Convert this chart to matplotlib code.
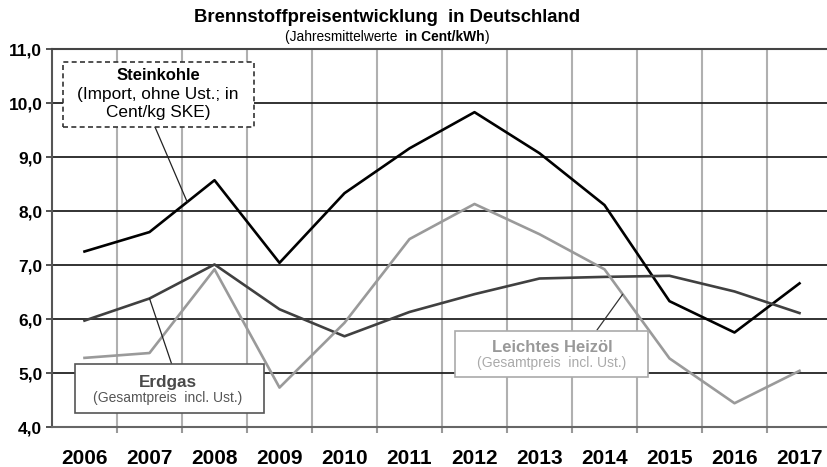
import numpy as np
import matplotlib.pyplot as plt
from matplotlib.patches import Rectangle

plt.rcParams["font.family"] = ["Liberation Sans", "DejaVu Sans"]

years = ["2006", "2007", "2008", "2009", "2010", "2011",
         "2012", "2013", "2014", "2015", "2016", "2017"]
steinkohle = [7.25, 7.61, 8.57, 7.04, 8.33, 9.16, 9.83, 9.07, 8.11, 6.33, 5.75, 6.66]
erdgas = [5.97, 6.38, 7.01, 6.18, 5.68, 6.13, 6.46, 6.75, 6.78, 6.80, 6.51, 6.11]
heizoel = [5.28, 5.37, 6.92, 4.73, 5.93, 7.48, 8.13, 7.57, 6.92, 5.27, 4.44, 5.04]

W, H = 828, 467
x = np.arange(len(years))

fig = plt.figure(figsize=(W / 100, H / 100), dpi=100)
ax = fig.add_axes([52 / W, 40 / H, 776 / W, 378 / H])
ax.set_xlim(-0.5, -0.5 + 776 / 65)
ax.set_ylim(4, 11)

# Gitter: senkrecht hellgrau zwischen den Jahren, waagerecht dunkel
ax.set_xticks(x[:-1] + 0.5)
ax.set_xticklabels([])
ax.set_xticks(x, minor=True)
ax.set_xticklabels(years, minor=True, fontsize=15, fontweight="bold")
ax.tick_params(axis="x", which="major", length=4, color="#999999", width=1.5)
ax.tick_params(axis="x", which="minor", length=0, pad=16)
ax.grid(axis="x", which="major", color="#b0b0b0", linewidth=1.5)

ax.set_yticks(range(4, 12))
ax.set_yticklabels([f"{v:.1f}".replace(".", ",") for v in range(4, 12)],
                   fontsize=12.5, fontweight="bold")
ax.tick_params(axis="y", length=4, color="#444444", width=1.3, pad=3)
ax.grid(axis="y", color="#222222", linewidth=1.3)
ax.set_axisbelow(True)

for side in ["top", "left", "bottom"]:
    ax.spines[side].set_linewidth(1.5)
ax.spines["top"].set_color("#444444")
ax.spines["left"].set_color("#555555")
ax.spines["bottom"].set_color("#666666")
ax.spines["right"].set_visible(False)

ax.plot(x, steinkohle, color="black", linewidth=1.9, zorder=3)
ax.plot(x, erdgas, color="#404040", linewidth=1.9, zorder=3)
ax.plot(x, heizoel, color="#9a9a9a", linewidth=1.9, zorder=3)

# Überschrift
fig.text(387 / W, 1 - 18 / H, "Brennstoffpreisentwicklung  in Deutschland",
         ha="center", va="center", fontsize=13.3, fontweight="bold")

# Untertitel aus drei Teilen, nacheinander gesetzt
renderer = fig.canvas.get_renderer()
parts = [("(Jahresmittelwerte  ", "normal"), ("in Cent/kWh", "bold"),
         (")", "normal")]
xpos = 285
for s, wt in parts:
    t = fig.text(xpos / W, 1 - 37 / H, s, ha="left", va="center",
                 fontsize=9.9, fontweight=wt)
    xpos += t.get_window_extent(renderer).width


def label_box(x0, y0, x1, y1, edge, ls):
    # Kasten in Bildpunkten (y von oben gezählt)
    r = Rectangle((x0 / W, 1 - y1 / H), (x1 - x0) / W, (y1 - y0) / H,
                  transform=fig.transFigure, facecolor="white", edgecolor=edge,
                  linewidth=1.2, linestyle=ls, zorder=5)
    fig.patches.append(r)


def leader(x_from, y_from, series, xd, color):
    yd = np.interp(xd, x, series)
    ax.annotate("", xy=(xd, yd), xytext=(x_from, H - y_from),
                textcoords="figure pixels",
                arrowprops=dict(arrowstyle="-", color=color, lw=0.9,
                                shrinkA=0, shrinkB=0), zorder=4)


# Steinkohle
leader(155, 127, steinkohle, 1.58, "#222222")
label_box(63, 62, 254, 127, "#333333", (0, (3, 2)))
fig.text(158 / W, 1 - 76 / H, "Steinkohle", ha="center", va="center",
         fontsize=12, fontweight="bold", zorder=6)
fig.text(158 / W, 1 - 95 / H, "(Import, ohne Ust.; in", ha="center",
         va="center", fontsize=12.4, zorder=6)
fig.text(158 / W, 1 - 113 / H, "Cent/kg SKE)", ha="center", va="center",
         fontsize=12.4, zorder=6)

# Erdgas
leader(172, 365, erdgas, 1.0, "#222222")
label_box(75, 364, 264, 413, "#555555", "-")
fig.text(168 / W, 1 - 382 / H, "Erdgas", ha="center", va="center",
         fontsize=12.3, fontweight="bold", color="#4a4a4a", zorder=6)
fig.text(168 / W, 1 - 398 / H, "(Gesamtpreis  incl. Ust.)", ha="center",
         va="center", fontsize=10, color="#555555", zorder=6)

# Leichtes Heizöl
leader(597, 330, heizoel, 8.28, "#333333")
label_box(455, 331, 648, 377, "#aaaaaa", "-")
fig.text(552 / W, 1 - 347 / H, "Leichtes Heizöl", ha="center", va="center",
         fontsize=12, fontweight="bold", color="#999999", zorder=6)
fig.text(552 / W, 1 - 363 / H, "(Gesamtpreis  incl. Ust.)", ha="center",
         va="center", fontsize=10, color="#aaaaaa", zorder=6)

fig.savefig("out.png", dpi=100)
